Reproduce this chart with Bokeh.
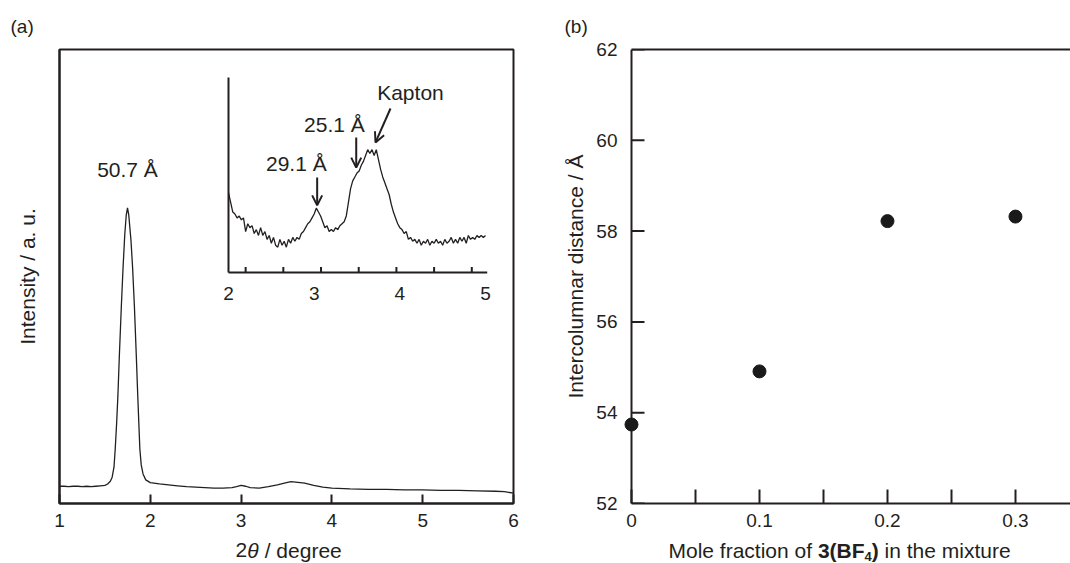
from bokeh.plotting import figure
from bokeh.models import Range1d, LinearAxis, FixedTicker, Arrow, OpenHead
from bokeh.layouts import row, column
from bokeh.embed import file_html
from bokeh.resources import INLINE
from bokeh.core.properties import value

# ---------------- data ----------------
main_2theta = [1.00, 1.05, 1.10, 1.15, 1.20, 1.25, 1.30, 1.35, 1.40, 1.45, 1.50, 1.53, 1.56, 1.58,
               1.60, 1.613, 1.63, 1.643, 1.66, 1.681, 1.70, 1.719, 1.735, 1.749, 1.763, 1.787,
               1.805, 1.825, 1.845, 1.862, 1.875, 1.885, 1.90, 1.92, 1.95, 2.00, 2.10, 2.20,
               2.30, 2.40, 2.50, 2.60, 2.70, 2.80, 2.90, 2.95, 3.00, 3.05, 3.10, 3.20, 3.30,
               3.40, 3.50, 3.55, 3.60, 3.70, 3.80, 3.90, 4.00, 4.20, 4.40, 4.60, 4.80, 5.00,
               5.20, 5.40, 5.60, 5.80, 5.90, 6.00]
main_intensity = [0.038, 0.038, 0.037, 0.038, 0.038, 0.037, 0.038, 0.037, 0.038, 0.039, 0.040,
                  0.043, 0.049, 0.058, 0.080, 0.118, 0.180, 0.237, 0.330, 0.434, 0.520, 0.593,
                  0.635, 0.651, 0.635, 0.580, 0.520, 0.434, 0.330, 0.237, 0.170, 0.120, 0.085,
                  0.065, 0.052, 0.046, 0.043, 0.041, 0.039, 0.037, 0.036, 0.035, 0.034, 0.034,
                  0.035, 0.037, 0.040, 0.038, 0.035, 0.034, 0.037, 0.041, 0.046, 0.048, 0.047,
                  0.045, 0.040, 0.036, 0.034, 0.032, 0.031, 0.031, 0.030, 0.030, 0.029, 0.029,
                  0.028, 0.027, 0.026, 0.023]

inset_2theta = [2.000, 2.025, 2.050, 2.075, 2.100, 2.125, 2.150, 2.175, 2.200, 2.225, 2.250,
                2.275, 2.300, 2.325, 2.350, 2.375, 2.400, 2.425, 2.450, 2.475, 2.500, 2.525,
                2.550, 2.575, 2.600, 2.625, 2.650, 2.675, 2.700, 2.725, 2.750, 2.775, 2.800,
                2.825, 2.850, 2.875, 2.900, 2.925, 2.950, 2.975, 3.000, 3.025, 3.050, 3.075,
                3.100, 3.125, 3.150, 3.175, 3.200, 3.225, 3.250, 3.275, 3.300, 3.325, 3.350,
                3.375, 3.400, 3.425, 3.450, 3.475, 3.500, 3.525, 3.550, 3.575, 3.600, 3.625,
                3.650, 3.675, 3.700, 3.725, 3.750, 3.775, 3.800, 3.825, 3.850, 3.875, 3.900,
                3.925, 3.950, 3.975, 4.000, 4.025, 4.050, 4.075, 4.100, 4.125, 4.150, 4.175,
                4.200, 4.225, 4.250, 4.275, 4.300, 4.325, 4.350, 4.375, 4.400, 4.425, 4.450,
                4.475, 4.500, 4.525, 4.550, 4.575, 4.600, 4.625, 4.650, 4.675, 4.700, 4.725,
                4.750, 4.775, 4.800, 4.825, 4.850, 4.875, 4.900, 4.925, 4.950, 4.975, 5.000]
inset_intensity = [0.41, 0.36, 0.31, 0.30, 0.28, 0.29, 0.27, 0.28, 0.21, 0.25, 0.23,
                   0.24, 0.20, 0.22, 0.19, 0.23, 0.19, 0.21, 0.17, 0.19, 0.15, 0.18,
                   0.14, 0.13, 0.17, 0.14, 0.16, 0.13, 0.17, 0.15, 0.18, 0.16, 0.18,
                   0.17, 0.20, 0.21, 0.23, 0.25, 0.26, 0.28, 0.30, 0.33, 0.31, 0.29,
                   0.26, 0.23, 0.24, 0.21, 0.22, 0.21, 0.23, 0.22, 0.24, 0.25, 0.26,
                   0.29, 0.36, 0.43, 0.47, 0.49, 0.51, 0.52, 0.55, 0.57, 0.60, 0.63,
                   0.61, 0.63, 0.60, 0.63, 0.58, 0.53, 0.49, 0.46, 0.43, 0.40, 0.35,
                   0.31, 0.28, 0.25, 0.23, 0.22, 0.20, 0.21, 0.17, 0.18, 0.16, 0.17,
                   0.15, 0.17, 0.14, 0.16, 0.15, 0.17, 0.14, 0.16, 0.15, 0.17, 0.15,
                   0.16, 0.14, 0.17, 0.15, 0.16, 0.18, 0.15, 0.17, 0.15, 0.18, 0.16,
                   0.18, 0.15, 0.19, 0.17, 0.18, 0.17, 0.19, 0.18, 0.19, 0.18, 0.19]

mole_fraction = [0.0, 0.1, 0.2, 0.3]
intercolumnar = [53.74, 54.91, 58.22, 58.32]

a_xticks = [1, 2, 3, 4, 5, 6]
inset_label_ticks = [2, 3, 4, 5]
inset_minor_ticks = [2.2, 2.64, 3.08, 3.52, 3.96, 4.4, 4.84]
b_xticks = [0.0, 0.1, 0.2, 0.3]
b_xtick_labels = ["0", "0.1", "0.2", "0.3"]
b_xminor = [0.05, 0.15, 0.25]
b_yticks = [52, 54, 56, 58, 60, 62]

main_peak = (1.749, 0.736, "50.7 Å")
inset_texts_x = [2.792, 3.237, 4.124]
inset_texts_y = [0.560, 0.761, 0.923]
inset_texts = ["29.1 Å", "25.1 Å", "Kapton"]
# arrows: (x_start, y_start, x_end, y_end) in inset coordinates
inset_arrows = [(3.035, 0.487, 3.035, 0.344),
                (3.491, 0.692, 3.491, 0.538),
                (3.891, 0.841, 3.716, 0.667)]

# axis-title pieces (text, style, size, x px, y px from strip bottom)
a_title_parts = [("2", "normal", "21px", 235.0, 13.5),
                 ("θ", "italic", "21px", 246.7, 13.5),
                 ("/ degree", "normal", "21px", 264.2, 13.5)]
b_title_parts = [("Mole fraction of", "normal", "21px", 668.0, 13.5),
                 ("3(BF", "bold", "21px", 817.4, 13.5),
                 ("4", "bold", "13px", 864.1, 6.8),
                 (")", "bold", "21px", 871.3, 13.5),
                 ("in the mixture", "normal", "21px", 884.1, 13.5)]

# ---------------- style ----------------
FONT = "Liberation Sans"
INK = "#231f20"
TICK_FS = "19px"
TITLE_FS = "21px"
PH = 538   # height of the two panels; frame bottom at 503


def style_axis(ax):
    ax.axis_line_width = 2
    ax.axis_line_color = INK
    ax.major_tick_line_width = 2
    ax.major_tick_line_color = INK
    ax.minor_tick_line_width = 2
    ax.minor_tick_line_color = INK
    ax.major_tick_out = 0
    ax.minor_tick_out = 0
    ax.major_label_text_font = FONT
    ax.major_label_text_font_size = TICK_FS
    ax.major_label_text_color = INK
    ax.axis_label_text_font = FONT
    ax.axis_label_text_font_size = TITLE_FS
    ax.axis_label_text_font_style = "normal"
    ax.axis_label_text_color = INK


def style_title(p, txt, offset):
    p.title.text = txt
    p.title.text_font = FONT
    p.title.text_font_size = "19px"
    p.title.text_font_style = "normal"
    p.title.text_color = INK
    p.title.align = "left"
    p.title.offset = offset
    p.title.standoff = 25


# ---------------- panel (a) ----------------
p1 = figure(width=540, height=PH, x_range=Range1d(1, 6), y_range=Range1d(0, 1),
            output_backend="svg", toolbar_location=None, title="(a)",
            min_border_left=59, min_border_right=27, min_border_top=49,
            min_border_bottom=PH - 503)
style_title(p1, "(a)", -49)
p1.extra_x_ranges = {"ix": Range1d(0.0273, 5.3268)}
p1.extra_y_ranges = {"iy": Range1d(-1.1846, 1.1436)}
p1.grid.visible = False
p1.outline_line_color = INK
p1.outline_line_width = 2

p1.xaxis.ticker = FixedTicker(ticks=a_xticks)
p1.yaxis.ticker = FixedTicker(ticks=[])
for ax in p1.xaxis + p1.yaxis:
    style_axis(ax)
p1.xaxis.major_tick_in = 9
p1.xaxis.major_label_standoff = 10
p1.yaxis.axis_label = "Intensity / a. u."
p1.yaxis.axis_label_standoff = 21

p1.line(main_2theta, main_intensity, line_color=INK, line_width=1.3)
p1.text(x=[main_peak[0]], y=[main_peak[1]], text=[main_peak[2]], text_font=value(FONT),
        text_font_size="21px", text_color=INK, text_align="center", text_baseline="alphabetic")

# inset
p1.line(inset_2theta, inset_intensity, line_color=INK, line_width=1.3,
        x_range_name="ix", y_range_name="iy")
p1.segment(x0=[2, 2], y0=[0, 0], x1=[5.02, 2], y1=[0, 1.0], line_color=INK, line_width=2,
           x_range_name="ix", y_range_name="iy")
p1.segment(x0=inset_minor_ticks, y0=[0] * len(inset_minor_ticks), x1=inset_minor_ticks,
           y1=[0.028] * len(inset_minor_ticks), line_color=INK, line_width=2,
           x_range_name="ix", y_range_name="iy")
p1.text(x=inset_label_ticks, y=[-0.107] * len(inset_label_ticks),
        text=[str(t) for t in inset_label_ticks], text_font=value(FONT), text_font_size=TICK_FS,
        text_color=INK, text_align="center", text_baseline="alphabetic",
        x_range_name="ix", y_range_name="iy")
p1.text(x=inset_texts_x, y=inset_texts_y, text=inset_texts, text_font=value(FONT),
        text_font_size="21px", text_color=INK, text_align="center", text_baseline="alphabetic",
        x_range_name="ix", y_range_name="iy")
for (xs, ys, xe, ye) in inset_arrows:
    p1.add_layout(Arrow(x_start=xs, y_start=ys, x_end=xe, y_end=ye, line_color=INK, line_width=2,
                        end=OpenHead(size=10, line_width=2, line_color=INK),
                        x_range_name="ix", y_range_name="iy"))

# ---------------- panel (b) ----------------
PX_PER_UNIT_B = 1280.0
B_LEFT_PAD = 10 / PX_PER_UNIT_B   # frame starts 10 px left of x = 0 so the x = 0 dot is not cut
B_END = 0.343
Y_TICK_LEN = 13 / PX_PER_UNIT_B
p2 = figure(width=530, height=PH, x_range=Range1d(-B_LEFT_PAD, B_END), y_range=Range1d(52, 62),
            output_backend="svg", toolbar_location=None, title="(b)",
            min_border_left=81, min_border_right=0, min_border_top=49,
            min_border_bottom=PH - 503)
style_title(p2, "(b)", -57)
p2.grid.visible = False
p2.outline_line_color = None

p2.xaxis.ticker = FixedTicker(ticks=b_xticks, minor_ticks=b_xminor)
p2.xaxis.major_label_overrides = {t: l for t, l in zip(b_xticks, b_xtick_labels)}
p2.xaxis.bounds = (0, B_END)
p2.yaxis.ticker = FixedTicker(ticks=b_yticks)
for ax in p2.xaxis + p2.yaxis:
    style_axis(ax)
p2.xaxis.major_tick_in = 14
p2.xaxis.minor_tick_in = 14
p2.xaxis.major_label_standoff = 10
# the left axis sits at the frame edge (10 px left of x = 0): keep only its labels
p2.yaxis.axis_line_color = None
p2.yaxis.major_tick_line_color = None
p2.yaxis.minor_tick_line_color = None
p2.yaxis.major_label_standoff = 4
p2.yaxis.axis_label = "Intercolumnar distance / Å"
p2.yaxis.axis_label_standoff = 6

top_axis = LinearAxis(ticker=FixedTicker(ticks=[]), bounds=(0, B_END))
style_axis(top_axis)
p2.add_layout(top_axis, "above")

# visible y axis line and inward ticks at x = 0
p2.segment(x0=[0], y0=[b_yticks[0]], x1=[0], y1=[b_yticks[-1]], line_color=INK, line_width=2)
p2.segment(x0=[0] * len(b_yticks), y0=b_yticks, x1=[Y_TICK_LEN] * len(b_yticks), y1=b_yticks,
           line_color=INK, line_width=2)

p2.scatter(mole_fraction, intercolumnar, size=13, fill_color="#1a1a1a", line_color="#1a1a1a")

# ---------------- strip with the x-axis titles ----------------
SH = 563 - PH
strip = figure(width=1070, height=SH, x_range=Range1d(0, 1070), y_range=Range1d(0, SH),
               output_backend="svg", toolbar_location=None, x_axis_type=None, y_axis_type=None,
               title=None, min_border=0,
               min_border_left=0, min_border_right=0, min_border_top=0, min_border_bottom=0)
strip.grid.visible = False
strip.outline_line_color = None
for parts in (a_title_parts, b_title_parts):
    for txt, style, fs, xpos, ypos in parts:
        strip.text(x=[xpos], y=[ypos], text=[txt], text_font=value(FONT), text_font_size=fs,
                   text_font_style=style, text_color=INK, text_baseline="alphabetic")

layout = column(row(p1, p2), strip)
open("out.html", "w").write(file_html(layout, INLINE))
